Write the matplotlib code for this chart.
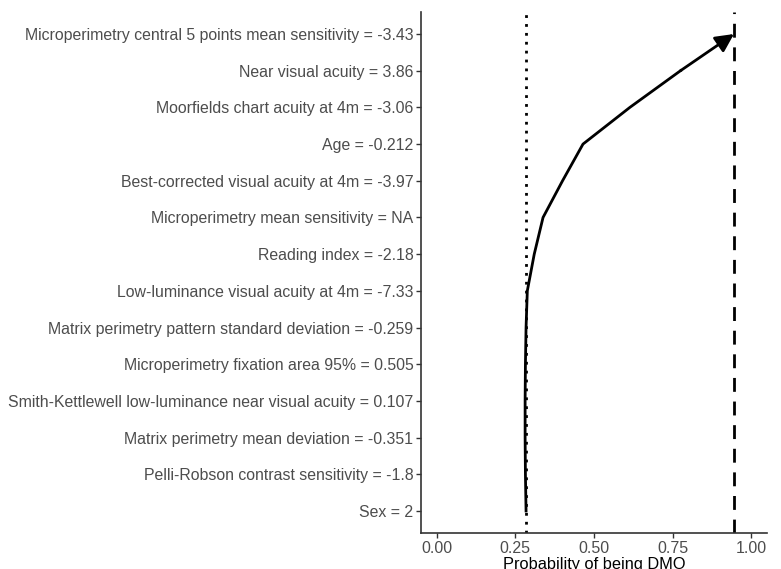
import matplotlib
matplotlib.use("Agg")
import matplotlib.pyplot as plt

features = [
    "Sex = 2",
    "Pelli-Robson contrast sensitivity = -1.8",
    "Matrix perimetry mean deviation = -0.351",
    "Smith-Kettlewell low-luminance near visual acuity = 0.107",
    "Microperimetry fixation area 95% = 0.505",
    "Matrix perimetry pattern standard deviation = -0.259",
    "Low-luminance visual acuity at 4m = -7.33",
    "Reading index = -2.18",
    "Microperimetry mean sensitivity = NA",
    "Best-corrected visual acuity at 4m = -3.97",
    "Age = -0.212",
    "Moorfields chart acuity at 4m = -3.06",
    "Near visual acuity = 3.86",
    "Microperimetry central 5 points mean sensitivity = -3.43",
]
cum_prob = [0.284, 0.282, 0.281, 0.281, 0.282, 0.284, 0.288, 0.31, 0.338,
            0.40, 0.465, 0.614, 0.775, 0.945]
base_value = 0.284
prediction = 0.945
x_ticks = [0.0, 0.25, 0.5, 0.75, 1.0]
x_ticklabels = ["0.00", "0.25", "0.50", "0.75", "1.00"]

plt.rcParams['font.family'] = ['Liberation Sans', 'DejaVu Sans']
fig = plt.figure(figsize=(7.81, 5.69), dpi=100)
ax = fig.add_axes([421/781, 1 - 533/569, (767-421)/781, (533-12)/569])

ys = list(range(1, len(features) + 1))
ax.axvline(base_value, color="black", linestyle=(0, (1, 2.2)), linewidth=2)
ax.axvline(prediction, color="black", linestyle=(0, (5, 3.5)), linewidth=2)
ax.plot(cum_prob[:-1], ys[:-1], color="black", linewidth=2)
ax.annotate("", xy=(cum_prob[-1], ys[-1]), xytext=(cum_prob[-2], ys[-2]),
            arrowprops=dict(arrowstyle="-|>,head_length=1.1,head_width=0.55",
                            color="black", lw=2, shrinkA=0, shrinkB=0))

ax.set_xlim(-0.05, 1.05)
ax.set_ylim(0.4, len(features) + 0.6)
ax.set_yticks(ys)
ax.set_yticklabels(features, fontsize=11.4, color="#4D4D4D")
ax.set_xticks(x_ticks)
ax.set_xticklabels(x_ticklabels, fontsize=11.5, color="#4D4D4D")
ax.set_xlabel("Probability of being DMO", fontsize=11.8, color="black", labelpad=1)
for s in ["top", "right"]:
    ax.spines[s].set_visible(False)
for s in ["left", "bottom"]:
    ax.spines[s].set_linewidth(1.2)
    ax.spines[s].set_color("#333333")
ax.tick_params(axis="both", length=3.5, width=1, color="#333333", pad=2)

fig.savefig("out.png", dpi=100)
